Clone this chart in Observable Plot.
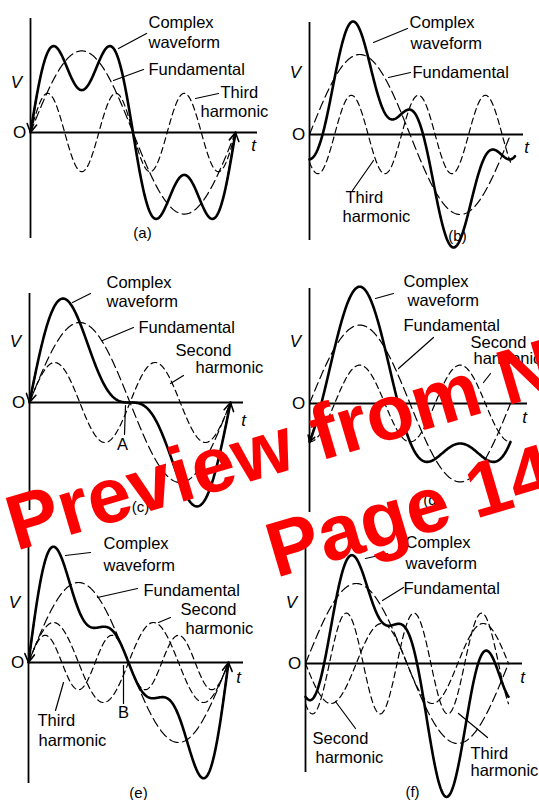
<!DOCTYPE html>
<html>
<head>
<meta charset="utf-8">
<script src="https://cdn.jsdelivr.net/npm/d3@7"></script>
<script src="https://cdn.jsdelivr.net/npm/@observablehq/plot@0.6"></script>
<style>
  html, body { margin: 0; padding: 0; background: #fff; overflow: hidden; }
  #figure { position: relative; width: 539px; height: 800px; overflow: hidden; background: #fff; }
  #figure svg { position: absolute; }
</style>
</head>
<body>
<div id="figure"></div>
<script>
// Panel captions
const panels = ["(a)", "(b)", "(c)", "(d)", "(e)", "(f)"];

// Peak of each wave relative to a unit fundamental; phases in degrees of the harmonic's own cycle
const fundamentalAmp = [1.02, 1.0, 1.0, 0.98, 1.0, 1.0];
const secondAmp      = [0, 0, 0.5, 0.48, 0.5, 0.5];
const secondPhase    = [0, 0, 0, -90, 0, 180];
const thirdAmp       = [0.49, 0.49, 0, 0, 0.34, 0.63];
const thirdPhase     = [0, -135, 0, 0, 0, -127];

// Harmonic content of the thick complex waveform in each panel
const complexSecondAmp = [0, 0, 0.5, 0.48, 0.5, 0.33];
const complexThirdAmp  = [0.49, 0.44, 0, 0, 0.34, 0.52];

// Annotation text
const labelComplex = ["Complex", "waveform"];
const labelFundamental = "Fundamental";
const labelSecond = ["Second", "harmonic"];
const labelThird = ["Third", "harmonic"];
const pointLabels = ["", "", "A", "", "B", ""];
const stampLines = ["Preview from N", "Page 14"];

// ---- layout (pixels inside each panel cell) ----
const cellW = 270, cellH = [260, 260, 280];
const layout = [
  { col: 0, row: 0, ox: 30, oy: 132, period: 205, top: 18, bottom: 238, right: 257, tPos: [253, 145], vy: 82, cap: [142, 233],
    text: [[labelComplex[0], 148, 22], [labelComplex[1], 148, 42], [labelFundamental, 148, 69], [labelThird[0], 220, 92], [labelThird[1], 200, 111]],
    point: null,
    arrows: [[146, 33, 118, 48, 0], [143, 69, 113, 80, 0], [218, 93, 195, 98, 0]],
    startArrow: true, endArrow: true, complexEnd: 360 },
  { col: 1, row: 0, ox: 39, oy: 134, period: 201, top: 22, bottom: 240, right: 253, tPos: [256, 147], vy: 72, cap: [187, 236],
    text: [[labelComplex[0], 139, 22], [labelComplex[1], 140, 43], [labelFundamental, 142, 72], [labelThird[0], 75, 197], [labelThird[1], 72, 216]],
    point: null,
    arrows: [[137, 28, 103, 42, 15], [140, 72, 118, 77, 0], [82, 190, 103, 160, -20]],
    startArrow: false, endArrow: false, complexEnd: 368 },
  { col: 0, row: 1, ox: 29, oy: 142, period: 201, top: 33, bottom: 250, right: 243, tPos: [243, 160], vy: 81, cap: [140, 247],
    text: [[labelComplex[0], 106, 22], [labelComplex[1], 106, 41], [labelFundamental, 138, 67], [labelSecond[0], 175, 90], [labelSecond[1], 195, 107]],
    point: [122, 184],
    arrows: [[90, 33, 72, 42, 0], [133, 67, 102, 80, 0], [183, 115, 170, 123, 0], [124, 174, 125, 145, 0]],
    startArrow: true, endArrow: true, complexEnd: 360 },
  { col: 1, row: 1, ox: 39, oy: 143, period: 201, top: 28, bottom: 252, right: 257, tPos: [254, 157], vy: 81, cap: [162, 240],
    text: [[labelComplex[0], 133, 21], [labelComplex[1], 137, 40], [labelFundamental, 133, 65], [labelSecond[0], 200, 82], [labelSecond[1], 203, 98]],
    point: null,
    arrows: [[123, 33, 105, 38, 0], [163, 77, 128, 108, -30], [220, 113, 213, 122, 0]],
    startArrow: true, endArrow: false, complexEnd: 360 },
  { col: 0, row: 2, ox: 28, oy: 142, period: 200, top: 20, bottom: 263, right: 243, tPos: [238, 157], vy: 82, cap: [138, 273],
    text: [[labelComplex[0], 103, 23], [labelComplex[1], 103, 45], [labelFundamental, 143, 70], [labelSecond[0], 180, 89], [labelSecond[1], 185, 108], [labelThird[0], 37, 200], [labelThird[1], 38, 220]],
    point: [123, 192],
    arrows: [[90, 32, 65, 35, 0], [137, 68, 97, 77, 0], [170, 97, 158, 102, 0], [55, 190, 63, 162, 20], [123, 183, 123, 145, 0]],
    startArrow: true, endArrow: true, complexEnd: 360 },
  { col: 1, row: 2, ox: 35, oy: 143, period: 203, top: 20, bottom: 252, right: 252, tPos: [252, 157], vy: 82, cap: [142, 272],
    text: [[labelComplex[0], 135, 22], [labelComplex[1], 135, 43], [labelFundamental, 133, 68], [labelSecond[0], 42, 218], [labelSecond[1], 45, 237], [labelThird[0], 200, 233], [labelThird[1], 200, 250]],
    point: null,
    arrows: [[117, 33, 95, 38, 0], [133, 67, 112, 80, 0], [85, 208, 65, 181, 25], [217, 217, 188, 193, 0]],
    startArrow: false, endArrow: false, complexEnd: 360 }
];
const unit = 80;  // pixels per unit of voltage
const font = "'Liberation Sans', Arial, Helvetica, sans-serif";

const rad = Math.PI / 180;
function samples(from, to, fn) {
  return d3.range(from, to + 0.5, 1).map(deg => ({deg, v: fn(deg)}));
}

const figure = document.getElementById("figure");

panels.forEach((caption, i) => {
  const L = layout[i];
  const X = px => (px - L.ox) / L.period * 360;
  const Y = py => (L.oy - py) / unit;

  const fund = deg => fundamentalAmp[i] * Math.sin(deg * rad);
  const second = a => deg => a * Math.sin((2 * deg + secondPhase[i]) * rad);
  const third = a => deg => a * Math.sin((3 * deg + thirdPhase[i]) * rad);
  const complex = deg => fund(deg) + second(complexSecondAmp[i])(deg) + third(complexThirdAmp[i])(deg);

  const marks = [];
  // axes
  marks.push(Plot.ruleX([0], {y1: Y(L.bottom), y2: Y(L.top), strokeWidth: 1.8, stroke: "black"}));
  marks.push(Plot.ruleY([0], {x1: 0, x2: X(L.right), strokeWidth: 1.8, stroke: "black"}));

  // component waves
  marks.push(Plot.line(samples(0, 360, fund), {x: "deg", y: "v", stroke: "black", strokeWidth: 1.2, strokeDasharray: "9,4.5"}));
  if (secondAmp[i] > 0)
    marks.push(Plot.line(samples(0, 360, second(secondAmp[i])), {x: "deg", y: "v", stroke: "black", strokeWidth: 1.2, strokeDasharray: "6,4"}));
  if (thirdAmp[i] > 0)
    marks.push(Plot.line(samples(0, 360, third(thirdAmp[i])), {x: "deg", y: "v", stroke: "black", strokeWidth: 1.2, strokeDasharray: "6,4"}));

  // resultant
  marks.push(Plot.line(samples(0, L.complexEnd, complex), {x: "deg", y: "v", stroke: "black", strokeWidth: 2.6, strokeLinejoin: "round"}));

  // arrowheads at the ends of the resultant
  const ends = [];
  if (L.startArrow) ends.push({x1: 12, y1: complex(12), x2: 0, y2: complex(0)});
  if (L.endArrow) ends.push({x1: 346, y1: complex(346), x2: 360, y2: complex(360)});
  marks.push(Plot.arrow(ends, {x1: "x1", y1: "y1", x2: "x2", y2: "y2", strokeWidth: 1.6, headLength: 9, stroke: "black"}));

  // leader arrows
  marks.push(Plot.arrow(L.arrows, {
    x1: d => X(d[0]), y1: d => Y(d[1]), x2: d => X(d[2]), y2: d => Y(d[3]),
    bend: d => d[4], strokeWidth: 1.2, headLength: 6, stroke: "black"
  }));

  // labels
  marks.push(Plot.text(L.text, {x: d => X(d[1]), y: d => Y(d[2]), text: d => d[0], textAnchor: "start", fontSize: 16.5, fill: "black"}));
  if (L.point)
    marks.push(Plot.text([pointLabels[i]], {x: X(L.point[0]), y: Y(L.point[1]), text: d => d, fontSize: 16.5, fill: "black"}));
  marks.push(Plot.text(["O"], {x: X(L.ox - 11), y: 0, text: d => d, fontSize: 17, fill: "black"}));
  marks.push(Plot.text(["V"], {x: X(L.ox - 14), y: Y(L.vy), text: d => d, fontSize: 17, fontStyle: "italic", fill: "black"}));
  marks.push(Plot.text(["t"], {x: X(L.tPos[0]), y: Y(L.tPos[1]), text: d => d, fontSize: 17, fontStyle: "italic", fill: "black"}));
  marks.push(Plot.text([caption], {x: X(L.cap[0]), y: Y(L.cap[1]), text: d => d, fontSize: 15, fill: "black"}));

  const chart = Plot.plot({
    width: cellW,
    height: cellH[L.row],
    margin: 0,
    x: {domain: [0, 360], range: [L.ox, L.ox + L.period], axis: null},
    y: {domain: [-1, 1], range: [L.oy + unit, L.oy - unit], axis: null},
    style: {overflow: "visible", background: "transparent", fontFamily: font},
    marks
  });
  chart.style.left = (L.col * cellW) + "px";
  chart.style.top = d3.sum(cellH.slice(0, L.row)) + "px";
  chart.style.position = "absolute";
  chart.style.maxWidth = "none";
  figure.appendChild(chart);
});

// red preview stamp across the page
const stampPos = [[16, 551], [276, 578]];
const stamp = d3.select(figure).append("svg")
  .attr("width", 539).attr("height", 800)
  .style("left", "0px").style("top", "0px");
stamp.selectAll("text").data(stampLines).join("text")
  .attr("x", (d, k) => stampPos[k][0])
  .attr("y", (d, k) => stampPos[k][1])
  .attr("transform", (d, k) => `rotate(-16.5 ${stampPos[k][0]} ${stampPos[k][1]})`)
  .attr("fill", "#ff0000")
  .attr("font-family", font)
  .attr("font-weight", "bold")
  .attr("font-size", 78)
  .text(d => d);
</script>
</body>
</html>
